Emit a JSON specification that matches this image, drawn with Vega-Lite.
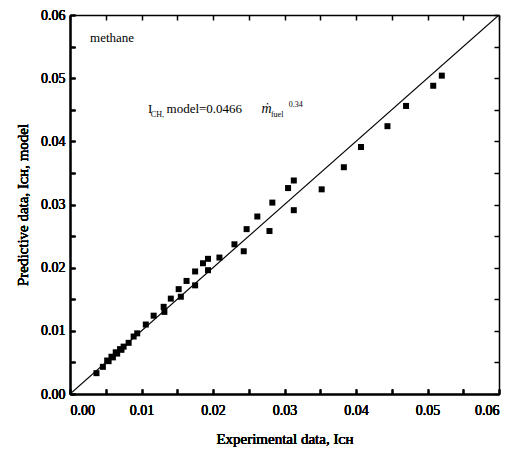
{
  "$schema": "https://vega.github.io/schema/vega-lite/v6.json",
  "width": 429,
  "height": 379,
  "autosize": "none",
  "padding": {"left": 70, "top": 15, "right": 21, "bottom": 56},
  "background": "white",
  "config": {
    "view": {"stroke": null},
    "font": "Liberation Serif",
    "axis": {
      "domainColor": "black", "domainWidth": 1.5,
      "labelFont": "Liberation Serif", "labelFontSize": 14, "labelColor": "black",
      "titleFont": "Liberation Serif", "titleFontSize": 15, "titleColor": "black", "titleFontWeight": "normal",
      "grid": false
    }
  },
  "datasets": {
    "pts": [
      {"exp": 0.0520, "pred": 0.0504}, {"exp": 0.0508, "pred": 0.0488}, {"exp": 0.0470, "pred": 0.0456},
      {"exp": 0.0444, "pred": 0.0424}, {"exp": 0.0407, "pred": 0.0391}, {"exp": 0.0383, "pred": 0.0359},
      {"exp": 0.0352, "pred": 0.0324}, {"exp": 0.0313, "pred": 0.0338}, {"exp": 0.0305, "pred": 0.0326},
      {"exp": 0.0313, "pred": 0.0291}, {"exp": 0.0283, "pred": 0.0303}, {"exp": 0.0262, "pred": 0.0281},
      {"exp": 0.0279, "pred": 0.0258}, {"exp": 0.0247, "pred": 0.0261}, {"exp": 0.0243, "pred": 0.0226},
      {"exp": 0.0230, "pred": 0.0237}, {"exp": 0.0209, "pred": 0.0216}, {"exp": 0.0193, "pred": 0.0214},
      {"exp": 0.0186, "pred": 0.0207}, {"exp": 0.0193, "pred": 0.0196}, {"exp": 0.0175, "pred": 0.0194},
      {"exp": 0.0175, "pred": 0.0172}, {"exp": 0.0163, "pred": 0.0179}, {"exp": 0.0152, "pred": 0.0166},
      {"exp": 0.0155, "pred": 0.0154}, {"exp": 0.0141, "pred": 0.0151}, {"exp": 0.0131, "pred": 0.0138},
      {"exp": 0.0132, "pred": 0.0130}, {"exp": 0.0117, "pred": 0.0124}, {"exp": 0.0106, "pred": 0.0110},
      {"exp": 0.0094, "pred": 0.0096}, {"exp": 0.0089, "pred": 0.0091}, {"exp": 0.0082, "pred": 0.0081},
      {"exp": 0.0075, "pred": 0.0075}, {"exp": 0.0072, "pred": 0.0070}, {"exp": 0.0070, "pred": 0.0071},
      {"exp": 0.0066, "pred": 0.0064}, {"exp": 0.0064, "pred": 0.0066}, {"exp": 0.0060, "pred": 0.0058},
      {"exp": 0.0058, "pred": 0.0059}, {"exp": 0.0054, "pred": 0.0052}, {"exp": 0.0052, "pred": 0.0053},
      {"exp": 0.0046, "pred": 0.0043}, {"exp": 0.0037, "pred": 0.0033}
    ],
    "diag": [{"exp": 0, "pred": 0}, {"exp": 0.06, "pred": 0.06}],
    "notes": [
      {"kind": "main", "exp": 0.0028, "pred": 0.0557, "text": "methane"},
      {"kind": "main", "exp": 0.0109, "pred": 0.0445, "text": "I"},
      {"kind": "sub", "exp": 0.0113, "pred": 0.0445, "text": "CH,"},
      {"kind": "main", "exp": 0.0135, "pred": 0.0445, "text": "model=0.0466"},
      {"kind": "ital", "exp": 0.0268, "pred": 0.0445, "text": "ṁ"},
      {"kind": "sub", "exp": 0.0281, "pred": 0.0445, "text": "fuel"},
      {"kind": "sup", "exp": 0.0306, "pred": 0.0445, "text": "0.34"}
    ]
  },
  "encoding": {
    "x": {"field": "exp", "type": "quantitative",
      "axis": {"orient": "bottom", "title": "Experimental data, Iᴄʜ", "tickSize": -5, "tickColor": "black", "tickWidth": 1.5,
        "labelExpr": "abs(datum.value*100 - round(datum.value*100)) < 0.01 ? format(datum.value, '.2f') : ''",
        "labelPadding": 14, "titlePadding": 14}},
    "y": {"field": "pred", "type": "quantitative",
      "axis": {"orient": "left", "title": "Predictive data, Iᴄʜ, model", "tickSize": -5, "tickColor": "black", "tickWidth": 1.5,
        "labelExpr": "abs(datum.value*100 - round(datum.value*100)) < 0.01 ? format(datum.value, '.2f') : ''",
        "labelPadding": 10, "titlePadding": 10}}
  },
  "layer": [
    {
      "data": {"name": "diag"},
      "mark": {"type": "line", "color": "black", "strokeWidth": 1.2, "clip": true},
      "encoding": {
        "x": {"field": "exp", "type": "quantitative", "scale": {"domain": [0, 0.06], "nice": false},
          "axis": {"orient": "top", "title": null, "labels": false, "tickSize": -5, "tickColor": "black", "tickWidth": 1.5}},
        "y": {"field": "pred", "type": "quantitative", "scale": {"domain": [0, 0.06], "nice": false},
          "axis": {"orient": "right", "title": null, "labels": false, "tickSize": -5, "tickColor": "black", "tickWidth": 1.5}}
      }
    },
    {
      "data": {"name": "pts"},
      "mark": {"type": "point", "shape": "square", "filled": true, "color": "black", "opacity": 1, "size": 36}
    },
    {
      "data": {"name": "notes"},
      "transform": [{"filter": "datum.kind == 'main'"}],
      "mark": {"type": "text", "align": "left", "baseline": "alphabetic", "fontSize": 13, "color": "black", "font": "Liberation Serif"},
      "encoding": {"text": {"field": "text"}}
    },
    {
      "data": {"name": "notes"},
      "transform": [{"filter": "datum.kind == 'ital'"}],
      "mark": {"type": "text", "align": "left", "baseline": "alphabetic", "fontSize": 14, "fontStyle": "italic", "color": "black", "font": "Liberation Serif"},
      "encoding": {"text": {"field": "text"}}
    },
    {
      "data": {"name": "notes"},
      "transform": [{"filter": "datum.kind == 'sub'"}],
      "mark": {"type": "text", "align": "left", "baseline": "alphabetic", "fontSize": 8, "dy": 4, "color": "black", "font": "Liberation Serif"},
      "encoding": {"text": {"field": "text"}}
    },
    {
      "data": {"name": "notes"},
      "transform": [{"filter": "datum.kind == 'sup'"}],
      "mark": {"type": "text", "align": "left", "baseline": "alphabetic", "fontSize": 8, "dy": -6, "color": "black", "font": "Liberation Serif"},
      "encoding": {"text": {"field": "text"}}
    }
  ]
}
